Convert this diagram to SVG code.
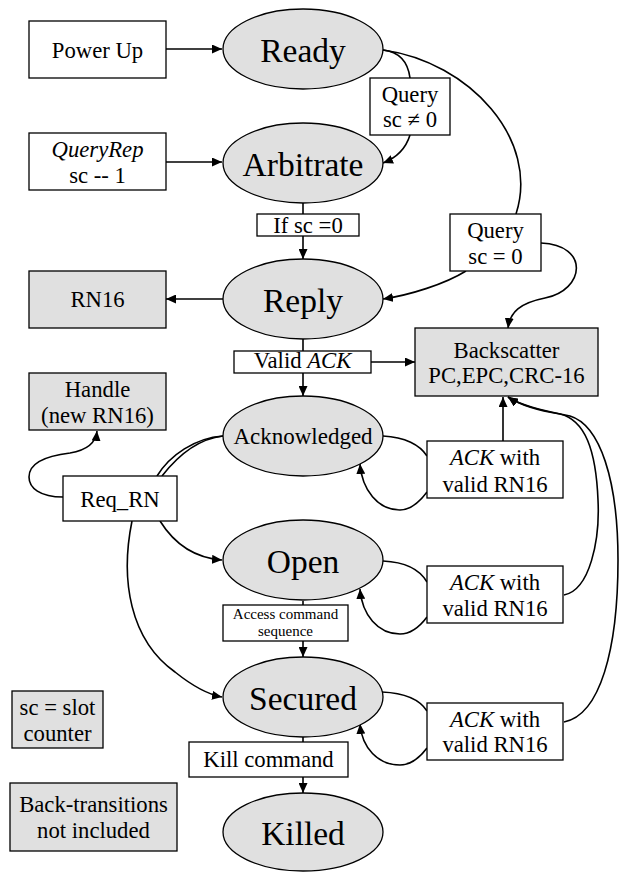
<svg xmlns="http://www.w3.org/2000/svg" width="619" height="872" viewBox="0 0 619 872">
<style>
text{font-family:"Liberation Serif","Times New Roman",serif;fill:#000;text-anchor:middle}
.lg{font-size:33.5px}
.ack{font-size:23px}
.md{font-size:22.7px}
.sm{font-size:15px}
.st{fill:#e0e0e0;stroke:#000;stroke-width:1.3}
.bx{fill:#fff;stroke:#000;stroke-width:1.3}
.gb{fill:#e0e0e0;stroke:#000;stroke-width:1.3}
.c{fill:none;stroke:#000;stroke-width:1.6}
.a{marker-end:url(#ah)}
.i{font-style:italic}
</style>
<defs>
<marker id="ah" markerUnits="userSpaceOnUse" markerWidth="11" markerHeight="9" refX="10" refY="4.5" orient="auto">
<path d="M0,0 L10,4.5 L0,9 z" fill="#000"/>
</marker>
</defs>

<g id="connectors">
<path class="c a" d="M166,49 L222,49"/>
<path class="c a" d="M166,162 L222,162"/>
<path class="c" d="M303,203 L303,214"/>
<path class="c a" d="M303,236 L303,259"/>
<path class="c a" d="M223,299 L166,299"/>
<path class="c" d="M303,339 L303,351"/>
<path class="c a" d="M303,373 L303,396"/>
<path class="c a" d="M371,362 L415,362"/>
<path class="c" d="M303,601 L303,605"/>
<path class="c a" d="M303,641 L303,657"/>
<path class="c" d="M303,737 L303,742"/>
<path class="c a" d="M303,777 L303,793"/>
<!-- Ready -> Query sc!=0 -> Arbitrate -->
<path class="c" d="M383,50 C400,52 408,62 410,78"/>
<path class="c a" d="M410,135 C406,148 396,158 383,163"/>
<!-- Ready -> Query sc=0 -> Reply / Backscatter -->
<path class="c" d="M383,50 C470,62 540,140 516,214"/>
<path class="c a" d="M466,271 C445,284 410,295 383,299"/>
<path class="c a" d="M541,243 C590,245 585,290 545,298 C520,303 510,312 508,328"/>
<!-- self loops -->
<path class="c" d="M383,436 C405,437 420,445 427,456"/>
<path class="c a" d="M427,492 C418,504 410,510 400,510 C378,510 362,490 360,464"/>
<path class="c" d="M383,561 C405,562 420,570 427,582"/>
<path class="c a" d="M427,617 C418,629 410,634 400,634 C378,634 362,615 360,589"/>
<path class="c" d="M382,692 C405,693 420,700 427,711"/>
<path class="c a" d="M427,748 C418,760 410,765 400,765 C378,765 362,748 360,724"/>
<!-- ACK boxes -> Backscatter -->
<path class="c a" d="M503,441 L503,397"/>
<path class="c a" d="M564,595 C590,590 600,540 598,500 C596,450 585,420 560,414 C535,410 520,405 508,397"/>
<path class="c a" d="M564,722 C600,715 618,650 618,560 C618,480 600,425 570,416 C540,410 520,405 508,397"/>
<!-- Acknowledged -> Req_RN -->
<path class="c" d="M223,436 C195,438 170,455 157,476"/>
<path class="c" d="M223,436 C197,439 176,458 162,476"/>
<!-- Req_RN -> Handle -->
<path class="c a" d="M63,497 C40,497 29,488 29,477 C29,463 45,456 70,453 C88,450 96,442 97,431"/>
<!-- Req_RN -> Open -->
<path class="c a" d="M160,521 C175,545 195,558 222,560"/>
<!-- Req_RN -> Secured -->
<path class="c a" d="M132,521 C120,580 130,640 175,672 C190,684 205,694 222,697"/>
</g>

<g id="power-up"><rect class="bx" x="29" y="21" width="137" height="57"/><text class="md" x="97.5" y="57.5">Power Up</text></g>
<g id="queryrep"><rect class="bx" x="29" y="133" width="137" height="57"/><text class="md" x="97.5" y="157"><tspan class="i">QueryRep</tspan></text><text class="md" x="97.5" y="183">sc -- 1</text></g>
<g id="rn16"><rect class="gb" x="29" y="271" width="137" height="57"/><text class="md" x="97.5" y="307">RN16</text></g>
<g id="handle"><rect class="gb" x="29" y="373" width="137" height="57"/><text class="md" x="97.5" y="397">Handle</text><text class="md" x="97.5" y="423">(new RN16)</text></g>
<g id="req-rn"><rect class="bx" x="63" y="476" width="114" height="45"/><text class="md" x="120" y="507">Req_RN</text></g>
<g id="note-sc"><rect class="gb" x="12" y="691" width="91" height="57"/><text class="md" x="57.5" y="715">sc = slot</text><text class="md" x="57.5" y="741">counter</text></g>
<g id="note-back"><rect class="gb" x="10" y="783" width="167" height="68"/><text class="md" x="93.5" y="812">Back-transitions</text><text class="md" x="93.5" y="838">not included</text></g>

<g id="ready"><ellipse class="st" cx="303" cy="49" rx="80" ry="40"/><text class="lg" x="303" y="62">Ready</text></g>
<g id="arbitrate"><ellipse class="st" cx="303" cy="163" rx="80" ry="40"/><text class="lg" x="303" y="176">Arbitrate</text></g>
<g id="reply"><ellipse class="st" cx="303" cy="299" rx="80" ry="40"/><text class="lg" x="303" y="312">Reply</text></g>
<g id="acknowledged"><ellipse class="st" cx="303" cy="436" rx="80" ry="40"/><text class="ack" x="303" y="444">Acknowledged</text></g>
<g id="open"><ellipse class="st" cx="303" cy="560" rx="80" ry="40"/><text class="lg" x="303" y="573">Open</text></g>
<g id="secured"><ellipse class="st" cx="303" cy="697" rx="80" ry="40"/><text class="lg" x="303" y="710">Secured</text></g>
<g id="killed"><ellipse class="st" cx="303" cy="832" rx="80" ry="39"/><text class="lg" x="303" y="845">Killed</text></g>

<g id="if-sc0"><rect class="bx" x="257" y="214" width="102" height="22"/><text class="md" x="308" y="233">If sc =0</text></g>
<g id="valid-ack"><rect class="bx" x="234" y="351" width="137" height="22"/><text class="md" x="302.5" y="368">Valid <tspan class="i">ACK</tspan></text></g>
<g id="access-cmd"><rect class="bx" x="223" y="605" width="125" height="36"/><text class="sm" x="285.5" y="619">Access command</text><text class="sm" x="285.5" y="636">sequence</text></g>
<g id="kill-cmd"><rect class="bx" x="189" y="742" width="159" height="35"/><text class="md" x="268.5" y="767">Kill command</text></g>
<g id="query-ne0"><rect class="bx" x="370" y="78" width="80" height="57"/><text class="md" x="410" y="102">Query</text><text class="md" x="410" y="127">sc ≠ 0</text></g>
<g id="query-eq0"><rect class="bx" x="450" y="214" width="91" height="57"/><text class="md" x="495.5" y="238">Query</text><text class="md" x="495.5" y="264">sc = 0</text></g>
<g id="backscatter"><rect class="gb" x="415" y="328" width="183" height="68"/><text class="md" x="506.5" y="358">Backscatter</text><text class="md" x="506.5" y="383">PC,EPC,CRC-16</text></g>
<g id="ack-rn16-1"><rect class="bx" x="427" y="441" width="136" height="57"/><text class="md" x="495" y="465"><tspan class="i">ACK</tspan> with</text><text class="md" x="495" y="492">valid RN16</text></g>
<g id="ack-rn16-2"><rect class="bx" x="427" y="566" width="136" height="57"/><text class="md" x="495" y="590"><tspan class="i">ACK</tspan> with</text><text class="md" x="495" y="616">valid RN16</text></g>
<g id="ack-rn16-3"><rect class="bx" x="427" y="703" width="136" height="57"/><text class="md" x="495" y="727"><tspan class="i">ACK</tspan> with</text><text class="md" x="495" y="752">valid RN16</text></g>
</svg>
